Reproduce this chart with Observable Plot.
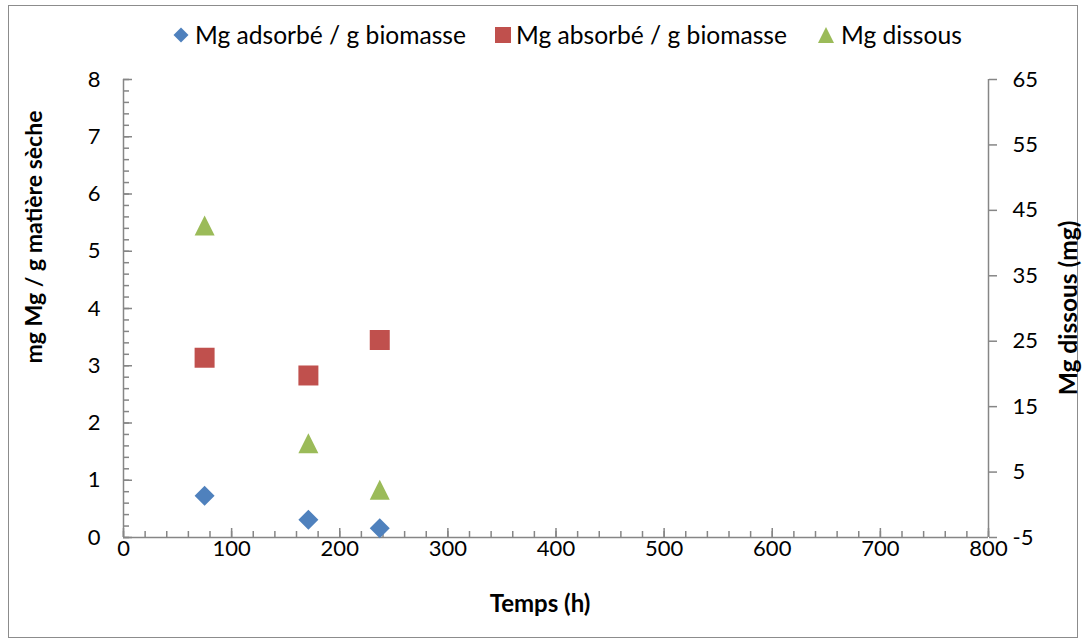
<!DOCTYPE html>
<html><head><meta charset="utf-8">
<script src="https://cdn.jsdelivr.net/npm/d3@7"></script>
<script src="https://cdn.jsdelivr.net/npm/@observablehq/plot@0.6"></script>
<style>
body{margin:0;background:#fff;font-family:Lato,"Open Sans",sans-serif;}
#wrap{position:relative;width:1086px;height:644px;overflow:hidden;background:#fff;}
#border{position:absolute;left:8px;top:5px;width:1070px;height:633px;border:1.5px solid #8c8c8c;box-sizing:border-box;}
#chart{position:absolute;left:0;top:0;}
.lgsym{position:absolute;}
.lgtxt{position:absolute;font-size:24.6px;line-height:28px;color:#000;white-space:nowrap;}
.title{position:absolute;font-weight:bold;font-size:24px;line-height:28px;color:#000;white-space:nowrap;transform:translate(-50%,-50%);}
.rot{transform:translate(-50%,-50%) rotate(-90deg);}
</style></head>
<body><div id="wrap"><div id="border"></div><div id="chart"></div></div>
<script>
// ---- data ----
const temps = [75, 171, 237];                 // Temps (h)
const mgAdsorbe = [0.73, 0.31, 0.16];         // mg Mg / g matière sèche
const mgAbsorbe = [3.14, 2.83, 3.45];         // mg Mg / g matière sèche
const mgDissous = [42.7, 9.4, 2.3];           // mg (right axis)
const seriesNames = ["Mg adsorbé / g biomasse", "Mg absorbé / g biomasse", "Mg dissous"];
const seriesColors = ["#4F81BD", "#C0504D", "#9BBB59"];
const xTicks = [0, 100, 200, 300, 400, 500, 600, 700, 800];
const leftTicks = [0, 1, 2, 3, 4, 5, 6, 7, 8];
const rightTicks = [-5, 5, 15, 25, 35, 45, 55, 65];
const xTitle = "Temps (h)";
const leftTitle = "mg Mg / g matière sèche";
const rightTitle = "Mg dissous (mg)";

// ---- scales helpers ----
const leftDomain = [leftTicks[0], leftTicks[leftTicks.length - 1]];
const rightDomain = [rightTicks[0], rightTicks[rightTicks.length - 1]];
const toLeft = v => (v - rightDomain[0]) / (rightDomain[1] - rightDomain[0]) * (leftDomain[1] - leftDomain[0]) + leftDomain[0];
const fromLeft = v => (v - leftDomain[0]) / (leftDomain[1] - leftDomain[0]) * (rightDomain[1] - rightDomain[0]) + rightDomain[0];

const diamond = {draw(ctx, size){const s = Math.sqrt(size)/2; ctx.moveTo(0,-s); ctx.lineTo(s,0); ctx.lineTo(0,s); ctx.lineTo(-s,0); ctx.closePath();}};
const square = {draw(ctx, size){const s = Math.sqrt(size)/2; ctx.rect(-s,-s,2*s,2*s);}};
const triangle = {draw(ctx, size){const s = Math.sqrt(size)/2; ctx.moveTo(0,-s); ctx.lineTo(s,s); ctx.lineTo(-s,s); ctx.closePath();}};
const symbols = [diamond, square, triangle];

const rows1 = temps.map((t, i) => ({t, v: mgAdsorbe[i]}));
const rows2 = temps.map((t, i) => ({t, v: mgAbsorbe[i]}));
const rows3 = temps.map((t, i) => ({t, v: toLeft(mgDissous[i])}));

const axisColor = "#868686";
const xMinor = d3.range(xTicks[0], xTicks[xTicks.length-1] + 1, 20);
const leftMinor = d3.range(0, 41).map(i => i * 0.2);
const R = Math.sqrt(400 / Math.PI);

const chart = Plot.plot({
  width: 1086, height: 644,
  marginLeft: 123, marginRight: 98, marginTop: 79, marginBottom: 107,
  style: {fontFamily: "Lato, 'Open Sans', sans-serif", fontSize: "22px", color: "#000", background: "transparent"},
  x: {domain: [xTicks[0], xTicks[xTicks.length-1]], label: null},
  y: {domain: leftDomain, label: null},
  marks: [
    Plot.axisY(leftMinor, {anchor: "left", tickSize: -6, tickFormat: () => "", stroke: axisColor, strokeWidth: 1.5, label: null}),
    Plot.axisY(leftTicks, {anchor: "left", tickSize: -9, tickPadding: 32, stroke: axisColor, strokeWidth: 1.5, fill: "#000", label: null, tickFormat: d => String(d)}),
    Plot.axisY(rightTicks.map(toLeft), {anchor: "right", tickSize: 8, tickPadding: 16, stroke: axisColor, strokeWidth: 1.5, fill: "#000", label: null, tickFormat: d => String(Math.round(fromLeft(d)))}),
    Plot.axisX(xMinor, {anchor: "bottom", tickSize: -6, tickFormat: () => "", stroke: axisColor, strokeWidth: 1.5, label: null}),
    Plot.axisX(xTicks, {anchor: "bottom", tickSize: -9, tickPadding: 12, stroke: axisColor, strokeWidth: 1.5, fill: "#000", label: null, tickFormat: d => String(d)}),
    Plot.ruleX([xTicks[0]], {stroke: axisColor, strokeWidth: 1.5}),
    Plot.ruleX([xTicks[xTicks.length-1]], {stroke: axisColor, strokeWidth: 1.5}),
    Plot.ruleY([leftDomain[0]], {stroke: axisColor, strokeWidth: 1.5}),
    Plot.dot(rows2, {x: "t", y: "v", symbol: square, r: R, fill: seriesColors[1], stroke: null}),
    Plot.dot(rows3, {x: "t", y: "v", symbol: triangle, r: R, fill: seriesColors[2], stroke: null}),
    Plot.dot(rows1, {x: "t", y: "v", symbol: diamond, r: R, fill: seriesColors[0], stroke: null})
  ]
});
document.getElementById("chart").appendChild(chart);

// ---- legend ----
const wrap = document.getElementById("wrap");
const legendSymX = [181, 503, 826];
const legendTxtX = [195, 516, 841];
const legendY = 35;
seriesNames.forEach((name, i) => {
  const sz = 16;
  const svg = d3.create("svg").attr("width", sz).attr("height", sz).attr("class", "lgsym")
    .style("left", (legendSymX[i] - sz/2) + "px").style("top", (legendY - sz/2) + "px");
  const area = i === 0 ? 15*15 : 16*16;
  svg.append("path").attr("transform", `translate(${sz/2},${sz/2})`)
    .attr("d", d3.symbol(symbols[i], area)()).attr("fill", seriesColors[i]);
  wrap.appendChild(svg.node());
  const t = document.createElement("div");
  t.className = "lgtxt"; t.textContent = name;
  t.style.left = legendTxtX[i] + "px"; t.style.top = (legendY - 14) + "px";
  wrap.appendChild(t);
});

// ---- titles ----
function addTitle(text, cx, cy, rotate, size){
  const d = document.createElement("div");
  d.className = "title" + (rotate ? " rot" : "");
  d.textContent = text; d.style.left = cx + "px"; d.style.top = cy + "px";
  if (size) d.style.fontSize = size + "px";
  wrap.appendChild(d);
}
addTitle(xTitle, 540, 603, false);
addTitle(leftTitle, 33, 237, true, 23);
addTitle(rightTitle, 1068, 308, true, 24.5);
</script>
</body></html>
